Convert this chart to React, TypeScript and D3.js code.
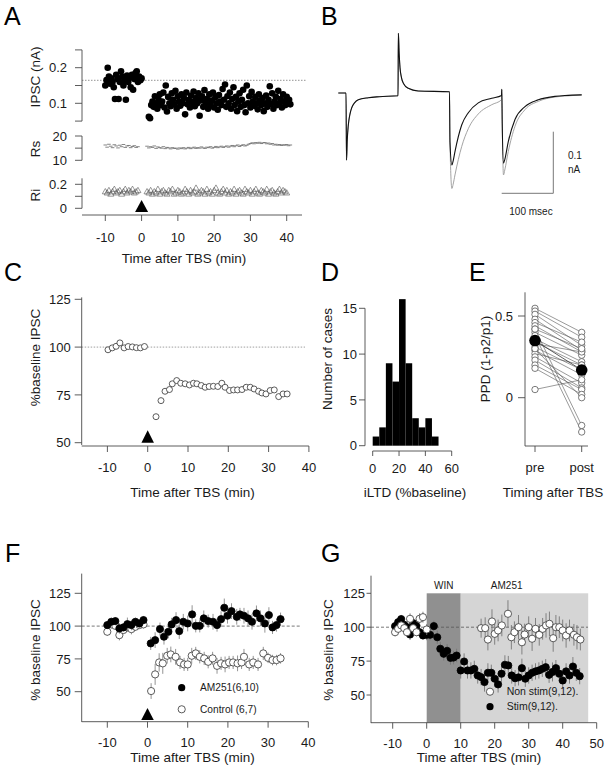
import React from "react";
import * as d3 from "d3";

const FONT = "'Liberation Sans', Arial, Helvetica, sans-serif";
const AX = "#4a4a4a";
const TXT = "#1a1a1a";

// ---------------- Panel A data ----------------
const aTimeTicks = [-10, 0, 10, 20, 30, 40];
const aIpscPreSpan = [-10, 0];
const aIpscPre = [0.150, 0.165, 0.200, 0.175, 0.155, 0.170, 0.160, 0.145, 0.112, 0.180, 0.168, 0.112, 0.160, 0.190, 0.175, 0.150, 0.165, 0.110, 0.178, 0.160, 0.172, 0.145, 0.180, 0.138, 0.168, 0.185, 0.190, 0.160, 0.175, 0.165, 0.170];
const aIpscPostSpan = [2, 41];
const aIpscPost = [0.062, 0.058, 0.095, 0.105, 0.09, 0.12, 0.1, 0.085, 0.11, 0.125, 0.095, 0.105, 0.13, 0.088, 0.15, 0.077, 0.118, 0.1, 0.092, 0.128, 0.11, 0.097, 0.135, 0.085, 0.12, 0.105, 0.093, 0.125, 0.1, 0.115, 0.069, 0.13, 0.097, 0.11, 0.088, 0.122, 0.104, 0.133, 0.092, 0.115, 0.1, 0.128, 0.065, 0.108, 0.12, 0.09, 0.137, 0.1, 0.112, 0.085, 0.125, 0.098, 0.108, 0.13, 0.088, 0.117, 0.1, 0.082, 0.123, 0.105, 0.095, 0.14, 0.11, 0.153, 0.09, 0.12, 0.1, 0.13, 0.085, 0.112, 0.145, 0.095, 0.118, 0.078, 0.105, 0.128, 0.09, 0.11, 0.138, 0.095, 0.075, 0.15, 0.1, 0.12, 0.088, 0.132, 0.105, 0.093, 0.118, 0.1, 0.083, 0.125, 0.108, 0.095, 0.115, 0.078, 0.1, 0.122, 0.09, 0.11, 0.148, 0.098, 0.128, 0.085, 0.105, 0.118, 0.095, 0.135, 0.1, 0.112, 0.088, 0.125, 0.105, 0.095, 0.118, 0.1, 0.11, 0.097];
const aIpscBaseline = 0.1646;
const aIpscTicks = [0.05, 0.1, 0.15, 0.2, 0.25];
const aIpscLabels = [[0.1, "0.1"], [0.2, "0.2"]];
const aRsPreSpan = [-10, -1];
const aRsPre = [16.3, 15.4, 16.6, 15.8, 15.2, 16.4, 15.9, 15.1, 16.2, 15.6, 16.5, 15.3, 15.9, 16.1, 15.2, 15.7, 16.0, 15.3, 15.6];
const aRsPostSpan = [1.5, 41];
const aRsPost = [15.8, 15.1, 15.6, 15.3, 15.9, 14.9, 15.5, 15.2, 15.0, 15.6, 14.8, 15.3, 15.1, 14.7, 15.2, 14.9, 15.0, 14.6, 15.1, 14.8, 15.2, 14.7, 15.0, 15.3, 14.8, 15.1, 15.4, 14.9, 15.2, 15.0, 15.5, 15.1, 14.9, 15.4, 15.2, 15.6, 15.0, 15.3, 15.7, 15.2, 15.5, 15.8, 15.3, 15.6, 15.9, 15.4, 15.8, 16.1, 15.6, 16.0, 16.3, 15.7, 16.1, 16.4, 15.9, 16.2, 16.6, 16.9, 17.2, 16.8, 17.3, 17.0, 17.4, 16.9, 17.2, 17.3, 16.8, 17.1, 16.6, 16.9, 16.3, 16.6, 16.2, 16.5, 16.1, 16.4, 16.2, 16.5, 16.0, 16.3];
const aRsTicks = [10, 15, 20];
const aRsLabels = [[10, "10"], [20, "20"]];
const aRiPreSpan = [-10, -1];
const aRiPre = [0.14, 0.13, 0.15, 0.12, 0.14, 0.16, 0.13, 0.14, 0.15, 0.12, 0.14, 0.16, 0.13, 0.15, 0.14, 0.16, 0.13, 0.14, 0.15];
const aRiPostSpan = [1.5, 40];
const aRiPost = [0.14, 0.13, 0.15, 0.12, 0.14, 0.13, 0.16, 0.12, 0.14, 0.15, 0.13, 0.12, 0.15, 0.14, 0.16, 0.12, 0.13, 0.15, 0.14, 0.12, 0.13, 0.16, 0.14, 0.12, 0.15, 0.13, 0.14, 0.17, 0.12, 0.13, 0.15, 0.14, 0.12, 0.16, 0.13, 0.14, 0.12, 0.15, 0.17, 0.13, 0.12, 0.14, 0.16, 0.13, 0.15, 0.12, 0.14, 0.13, 0.16, 0.12, 0.14, 0.15, 0.13, 0.12, 0.16, 0.14, 0.13, 0.15, 0.12, 0.14, 0.16, 0.13, 0.12, 0.15, 0.14, 0.13, 0.16, 0.12, 0.14, 0.15, 0.13, 0.12, 0.14, 0.16, 0.13, 0.15, 0.14, 0.13];
const aRiTicks = [0, 0.1, 0.2];
const aRiLabels = [[0, "0"], [0.2, "0.2"]];

// ---------------- Panel B data (ms, nA) ----------------
const bTime = [0.6, 15.5, 16.5, 18, 20, 23, 26.6, 32, 39.3, 58.7, 80, 116.3, 117, 118.5, 120.2, 123, 126.6, 136.2, 155.6, 216, 217, 220.7, 223.2, 226.7, 239.7, 252.5, 271.9, 297.9, 316.9, 317.4, 318.3, 320.7, 323.2, 330, 343, 362.4, 388.2, 420.5, 440, 472.3];
const bAfter = [0, 0, -0.109, -0.075, -0.052, -0.035, -0.024, -0.016, -0.011, -0.0076, -0.006, -0.0044, 0.097, 0.065, 0.041, 0.025, 0.016, 0.0076, 0.0032, 0.0021, -0.08, -0.117, -0.11, -0.095, -0.052, -0.032, -0.016, -0.0086, -0.004, 0.006, -0.05, -0.114, -0.108, -0.079, -0.043, -0.022, -0.011, -0.0055, -0.004, -0.003];
const bBefore = [0, 0, -0.109, -0.075, -0.052, -0.035, -0.024, -0.016, -0.011, -0.0076, -0.006, -0.0044, 0.097, 0.065, 0.041, 0.025, 0.016, 0.0076, 0.0032, 0.0021, -0.08, -0.155, -0.148, -0.133, -0.087, -0.058, -0.034, -0.019, -0.011, 0.006, -0.05, -0.133, -0.125, -0.095, -0.054, -0.027, -0.0136, -0.0065, -0.005, -0.003];
const bScaleMs = 100;
const bScaleNA = 0.1;

// ---------------- Panel C data ----------------
const cTimeTicks = [-10, 0, 10, 20, 30, 40];
const cYTicks = [50, 75, 100, 125];
const cPreTime = [-9.85, -8.8, -7.85, -6.9, -5.85, -4.85, -3.8, -2.8, -1.8, -0.8];
const cPreVal = [98.6, 99.6, 100.4, 102.2, 99.6, 100.3, 100.1, 99.7, 99.6, 100.3];
const cPostTime = [2.06, 3.3, 4.3, 5.4, 6.1, 7.2, 8.2, 9.3, 10.35, 11.35, 12.2, 13.3, 14.25, 15.25, 16.3, 17.4, 18.4, 19.2, 20.3, 21.3, 22.3, 23.4, 24.45, 25.45, 26.4, 27.5, 28.35, 29.35, 30.4, 31.4, 32.5, 33.6, 34.6];
const cPostVal = [63.6, 72.0, 76.9, 77.8, 80.8, 82.5, 81.1, 80.8, 80.2, 81.1, 80.8, 79.9, 79.0, 79.4, 79.5, 79.4, 81.1, 79.0, 77.3, 77.6, 77.6, 77.8, 79.0, 79.0, 78.1, 76.9, 76.0, 75.5, 77.3, 77.6, 74.1, 75.5, 75.5];

// ---------------- Panel D data ----------------
const dBinEdges = [0, 5, 10, 15, 20, 25, 30, 35, 40, 45, 50];
const dCounts = [1, 2, 9, 7, 16, 9, 3, 2, 3, 1];
const dXTicks = [0, 20, 40, 60];
const dYTicks = [0, 5, 10, 15];

// ---------------- Panel E data ----------------
const eCats = ["pre", "post"];
const ePre = [0.547, 0.53, 0.51, 0.48, 0.46, 0.44, 0.42, 0.40, 0.38, 0.36, 0.34, 0.33, 0.31, 0.29, 0.27, 0.25, 0.23, 0.20, 0.18, 0.05, 0.42, 0.30];
const ePost = [0.40, 0.37, 0.32, 0.29, 0.34, 0.28, -0.17, 0.26, -0.21, 0.22, 0.20, 0.28, 0.17, 0.14, 0.20, 0.09, 0.06, 0.05, 0.02, 0.11, 0.30, 0.00];
const eYTicks = [0, 0.5];

// ---------------- Panel F data ----------------
const fTimeTicks = [-10, 0, 10, 20, 30, 40];
const fYTicks = [50, 75, 100, 125];
const fAmTime = [-10, -9, -8, -7, -6, -5, -4, -3, -2, -1, 0.8, 1.9, 3.1, 4.1, 5.2, 6, 7.1, 7.9, 8.9, 10, 11.1, 12, 13, 14, 15.1, 16.3, 17.3, 18.3, 19.1, 19.9, 20.9, 22.2, 23, 24, 25, 26, 27.1, 28.1, 29.2, 30.2, 31.1, 32.1, 33.1];
const fAmVal = [100.8, 103.3, 103.8, 98.2, 99, 101.5, 100.8, 103.3, 102, 104.6, 86.8, 89.3, 97.7, 91.9, 95.7, 101.3, 104.6, 96.2, 103.3, 102, 108.9, 100.2, 100.2, 105.9, 103.8, 103.3, 100.8, 105.3, 114, 107.9, 111.4, 107.1, 108.9, 107.9, 105.9, 103.3, 109.7, 105.9, 102, 108.4, 99, 100.8, 105.3];
const fAmSem = [3, 3, 3, 4, 3, 5, 4, 3, 3, 3, 5, 6, 5, 6, 5, 5, 6, 6, 6, 6, 7, 5, 5, 6, 5, 6, 5, 6, 7, 6, 6, 6, 5, 6, 6, 6, 6, 6, 7, 6, 5, 5, 5];
const fCtlTime = [-10, -9, -8, -7, -6, -5, -4, -3, -2, -1, 0.9, 1.9, 2.9, 3.8, 4.9, 5.8, 7, 8.1, 9.1, 10, 11, 12, 13, 14.1, 15.1, 16.2, 17.3, 18.3, 19.3, 20.3, 21.3, 22.4, 23.4, 24, 25.3, 26.3, 27.5, 28.8, 30, 31.1, 32.1, 33.1];
const fCtlVal = [95.7, 101.3, 100.2, 93.1, 97, 99.5, 97.7, 99.5, 100.8, 101.3, 50.5, 63.2, 72.3, 71.6, 77.4, 78.4, 76.6, 72.3, 70.8, 70.8, 77.4, 79.2, 76.6, 75.4, 72.8, 75.4, 69.7, 71.6, 70.8, 72.3, 72.3, 71.6, 72.3, 76.6, 70.8, 72.3, 70.8, 79.2, 75.8, 74.1, 74.1, 75.4];
const fCtlSem = [3, 3, 3, 4, 3, 4, 4, 3, 3, 3, 6, 8, 7, 8, 6, 6, 6, 5, 5, 5, 6, 5, 5, 5, 5, 5, 6, 5, 6, 5, 5, 6, 5, 6, 5, 5, 5, 5, 4, 4, 4, 4];
const fLegend = ["AM251(6,10)", "Control (6,7)"];

// ---------------- Panel G data ----------------
const gTimeTicks = [-10, 0, 10, 20, 30, 40, 50];
const gYTicks = [50, 75, 100, 125];
const gWin = [0, 10];
const gAm251 = [10, 47.5];
const gStimTime = [-9.3, -8.4, -7.5, -6.6, -5.8, -4.9, -4, -3, -2.1, -1.1, 0, 1, 2.1, 3.1, 4, 5, 6, 7, 7.9, 8.8, 10, 11, 12, 13, 14, 15, 16, 17, 18, 19, 20, 21, 22, 23, 24, 25, 26, 27, 28, 29, 30, 31, 32, 33, 34, 35, 36, 37, 38, 39, 40, 41, 42, 43, 44, 45];
const gStimVal = [100.8, 103.7, 106, 101.8, 100, 94.6, 103, 101, 96.3, 93.9, 94.4, 94.4, 100.8, 92.6, 84.1, 80.4, 82.6, 77.4, 77.6, 79.1, 68.1, 74.7, 68.1, 68.1, 69.3, 64.4, 63.2, 59.5, 66.4, 66.4, 62, 57.8, 65.7, 72.3, 71.8, 64.4, 62.4, 63, 69.8, 62, 64.4, 66.4, 67.4, 68.1, 69.3, 70.5, 64.9, 67, 69.8, 65.7, 60.7, 67.4, 64.4, 71, 66.4, 63.9];
const gStimSem = [3, 3, 3, 3, 3, 4, 3, 3, 3, 3, 4, 4, 4, 5, 5, 5, 5, 5, 5, 5, 6, 6, 6, 6, 6, 6, 6, 7, 7, 6, 6, 6, 6, 7, 7, 6, 6, 6, 7, 6, 6, 6, 6, 6, 6, 6, 6, 7, 6, 6, 6, 6, 6, 7, 6, 6];
const gNonTime = [-9.3, -8.4, -7.5, -6.6, -5.8, -4.9, -4, -3, -2.1, -1.1, 0, 16, 17.2, 18, 19.2, 20, 21, 22.1, 23.9, 24.9, 25.8, 27, 28, 28.8, 30, 31, 32, 33.1, 34.1, 35.1, 36.1, 37.2, 38, 39, 40, 41, 42, 43.3, 44.2, 45.2];
const gNonVal = [96.3, 98.8, 101.3, 99.3, 96.3, 106.2, 99.3, 96.3, 106.2, 107.4, 98.3, 99.3, 99.3, 90.9, 104.2, 95.1, 97.6, 101.3, 109.9, 92.6, 96.3, 100, 88.9, 94.6, 100, 91.5, 98.8, 94.4, 98.8, 101.3, 102.5, 91.9, 100, 100, 97.6, 93.9, 97.6, 94.4, 92.6, 90.9];
const gNonSem = [3, 3, 3, 4, 3, 4, 3, 3, 4, 4, 4, 7, 8, 8, 9, 8, 8, 8, 10, 9, 8, 9, 9, 8, 8, 9, 8, 8, 8, 9, 9, 10, 9, 8, 8, 9, 8, 8, 9, 8];
const gLegend = ["Non stim(9,12).", "Stim(9,12)."];

// ---------------- helpers ----------------
function spread(vals: number[], span: number[]) {
  const n = vals.length;
  return vals.map((v, i) => ({ t: span[0] + (i * (span[1] - span[0])) / (n - 1), v }));
}

function YAxis({ x, scale, from, to, ticks, labels, tick = 7, gap = 4, fs = 13 }: any) {
  return (
    <g>
      <line x1={x} x2={x} y1={scale(from)} y2={scale(to)} stroke={AX} strokeWidth={0.9} />
      {ticks.map((t: number, i: number) => (
        <line key={i} x1={x - tick} x2={x} y1={scale(t)} y2={scale(t)} stroke={AX} strokeWidth={0.9} />
      ))}
      {labels.map((l: any, i: number) => (
        <text key={"l" + i} x={x - tick - gap} y={scale(l[0])} dy="0.36em" textAnchor="end" fontSize={fs} fill={TXT}>
          {l[1]}
        </text>
      ))}
    </g>
  );
}

function XAxis({ y, scale, x0, x1, ticks, tick = 6, labelDy = 21, fs = 13, fmt = (d: any) => String(d) }: any) {
  return (
    <g>
      <line x1={x0} x2={x1} y1={y} y2={y} stroke={AX} strokeWidth={0.9} />
      {ticks.map((t: any, i: number) => (
        <g key={i}>
          <line x1={scale(t)} x2={scale(t)} y1={y} y2={y + tick} stroke={AX} strokeWidth={0.9} />
          <text x={scale(t)} y={y + labelDy} dy="0.36em" textAnchor="middle" fontSize={fs} fill={TXT}>
            {fmt(t)}
          </text>
        </g>
      ))}
    </g>
  );
}

function VLabel({ x, y, text, fs = 13.5 }: any) {
  return (
    <text transform={`translate(${x},${y}) rotate(-90)`} textAnchor="middle" dy="0.36em" fontSize={fs} fill={TXT}>
      {text}
    </text>
  );
}

function HLabel({ x, y, text, fs = 13.5 }: any) {
  return (
    <text x={x} y={y} dy="0.36em" textAnchor="middle" fontSize={fs} fill={TXT}>
      {text}
    </text>
  );
}

function Tri({ x, yBase, h = 12, w = 13 }: any) {
  return <path d={`M${x - w / 2},${yBase} L${x + w / 2},${yBase} L${x},${yBase - h} Z`} fill="#000" />;
}

function PanelLetter({ x, y, t }: any) {
  return (
    <text x={x} y={y} fontSize={25} fill="#000">
      {t}
    </text>
  );
}

function Dots({ xs, ys, ts, vs, sem, filled, r = 3.6, errColor = "#888" }: any) {
  return (
    <g>
      {sem &&
        ts.map((t: number, i: number) => (
          <line key={"e" + i} x1={xs(t)} x2={xs(t)} y1={ys(vs[i] - sem[i])} y2={ys(vs[i] + sem[i])} stroke={errColor} strokeWidth={0.9} />
        ))}
      {ts.map((t: number, i: number) => (
        <circle key={i} cx={xs(t)} cy={ys(vs[i])} r={r} fill={filled ? "#000" : "#fff"} stroke={filled ? "#000" : "#333"} strokeWidth={0.8} />
      ))}
    </g>
  );
}

export default function App() {
  // ---- A ----
  const xA = d3.scaleLinear().domain([-10, 40]).range([105.3, 286.7]);
  const yIpsc = d3.scaleLinear().domain([0.1, 0.2]).range([103.3, 67.7]);
  const yRs = d3.scaleLinear().domain([10, 20]).range([160.3, 136]);
  const yRi = d3.scaleLinear().domain([0, 0.2]).range([208.3, 184.3]);
  const ipscPts = [...spread(aIpscPre, aIpscPreSpan), ...spread(aIpscPost, aIpscPostSpan)];
  const rsPts = [...spread(aRsPre, aRsPreSpan), ...spread(aRsPost, aRsPostSpan)];
  const riPts = [...spread(aRiPre, aRiPreSpan), ...spread(aRiPost, aRiPostSpan)];

  // ---- B ----
  const xB = d3.scaleLinear().domain([0, 100]).range([338, 389.6]);
  const yB = d3.scaleLinear().domain([0, 0.1]).range([93, 31.4]);
  const lineB = d3
    .line<number>()
    .x((_, i) => xB(bTime[i]))
    .y((d) => yB(d))
    .curve(d3.curveMonotoneX);
  const sbX1 = 553.3;
  const sbY = 193.3;
  const sbX0 = sbX1 - (xB(bScaleMs) - xB(0));
  const sbYTop = sbY - (yB(0) - yB(bScaleNA));

  // ---- C ----
  const xC = d3.scaleLinear().domain([-10, 40]).range([107.4, 308.9]);
  const yC = d3.scaleLinear().domain([50, 125]).range([442.7, 299.3]);

  // ---- D ----
  const xD = d3.scaleLinear().domain([0, 60]).range([372.7, 451.7]);
  const yD = d3.scaleLinear().domain([0, 15]).range([445.7, 308.3]);

  // ---- E ----
  const xE = d3.scalePoint().domain(eCats).range([535, 581.7]);
  const yE = d3.scaleLinear().domain([0, 0.5]).range([397.7, 316]);
  const preMean = d3.mean(ePre) as number;
  const postMean = d3.mean(ePost) as number;

  // ---- F ----
  const xF = d3.scaleLinear().domain([-10, 40]).range([107.3, 308.3]);
  const yF = d3.scaleLinear().domain([50, 125]).range([691.7, 593.3]);

  // ---- G ----
  const xG = d3.scaleLinear().domain([-10, 50]).range([392.7, 596.7]);
  const yG = d3.scaleLinear().domain([50, 125]).range([695, 593.3]);

  return (
    <svg
      width={611}
      height={776}
      style={{ position: "absolute", left: 0, top: 0, background: "#fff" }}
      fontFamily={FONT}
    >
      <rect x={0} y={0} width={611} height={776} fill="#fff" />

      {/* ================= A ================= */}
      <PanelLetter x={4} y={25} t="A" />
      <line x1={82} x2={306} y1={yIpsc(aIpscBaseline)} y2={yIpsc(aIpscBaseline)} stroke="#777" strokeWidth={0.8} strokeDasharray="1.5,1.5" />
      {ipscPts.map((p, i) => (
        <circle key={i} cx={xA(p.t)} cy={yIpsc(p.v)} r={3.3} fill="#000" />
      ))}
      {rsPts.map((p, i) => (
        <line key={i} x1={xA(p.t) - 1.8} x2={xA(p.t) + 1.8} y1={yRs(p.v)} y2={yRs(p.v)} stroke="#666" strokeWidth={0.8} />
      ))}
      {riPts.map((p, i) => {
        const cx = xA(p.t), cy = yRi(p.v);
        return <path key={i} d={`M${cx - 3},${cy + 2.3} L${cx + 3},${cy + 2.3} L${cx},${cy - 3} Z`} fill="none" stroke="#555" strokeWidth={0.6} />;
      })}
      <YAxis x={82} scale={yIpsc} from={0.05} to={0.25} ticks={aIpscTicks} labels={aIpscLabels} gap={8} />
      <YAxis x={82} scale={yRs} from={10} to={20} ticks={aRsTicks} labels={aRsLabels} gap={8} />
      <YAxis x={82} scale={yRi} from={0} to={0.25} ticks={aRiTicks} labels={aRiLabels} gap={8} />
      <VLabel x={35} y={77} text="IPSC (nA)" />
      <VLabel x={35} y={149} text="Rs" />
      <VLabel x={35} y={195} text="Ri" />
      <Tri x={xA(0)} yBase={212} h={12} w={13} />
      <XAxis y={215} scale={xA} x0={82} x1={302} ticks={aTimeTicks} labelDy={22} />
      <HLabel x={184} y={258} text="Time after TBS (min)" />

      {/* ================= B ================= */}
      <PanelLetter x={321} y={25} t="B" />
      <path d={lineB(bBefore) || ""} fill="none" stroke="#999" strokeWidth={0.9} />
      <path d={lineB(bAfter) || ""} fill="none" stroke="#111" strokeWidth={1.1} />
      <polyline points={`${sbX0},${sbY} ${sbX1},${sbY} ${sbX1},${sbYTop}`} fill="none" stroke="#777" strokeWidth={1} />
      <text x={568} y={155} dy="0.36em" fontSize={10} fill={TXT}>0.1</text>
      <text x={568} y={169} dy="0.36em" fontSize={10} fill={TXT}>nA</text>
      <text x={531} y={211} dy="0.36em" fontSize={10} textAnchor="middle" fill={TXT}>100 msec</text>

      {/* ================= C ================= */}
      <PanelLetter x={4} y={281} t="C" />
      <line x1={81.7} x2={305} y1={yC(100)} y2={yC(100)} stroke="#888" strokeWidth={0.8} strokeDasharray="1.5,1.5" />
      <Dots xs={xC} ys={yC} ts={cPreTime} vs={cPreVal} filled={false} r={3} />
      <Dots xs={xC} ys={yC} ts={cPostTime} vs={cPostVal} filled={false} r={3} />
      <Tri x={xC(0)} yBase={442.7} h={12.5} w={12.5} />
      <YAxis x={81.7} scale={yC} from={48.8} to={126} ticks={cYTicks} labels={cYTicks.map((t) => [t, String(t)])} gap={4} />
      <XAxis y={446} scale={xC} x0={81.7} x1={308.9} ticks={cTimeTicks} labelDy={21} />
      <HLabel x={192.5} y={492} text="Time after TBS (min)" />
      <VLabel x={35} y={357.5} text="%baseline IPSC" />

      {/* ================= D ================= */}
      <PanelLetter x={321} y={281} t="D" />
      {dCounts.map((c, i) => (
        <rect key={i} x={xD(dBinEdges[i])} y={yD(c)} width={xD(dBinEdges[i + 1]) - xD(dBinEdges[i])} height={yD(0) - yD(c)} fill="#000" />
      ))}
      <YAxis x={365} scale={yD} from={0} to={15} ticks={dYTicks} labels={dYTicks.map((t) => [t, String(t)])} tick={6} gap={2} />
      <XAxis y={451} scale={xD} x0={xD(0)} x1={xD(60)} ticks={dXTicks} tick={5} labelDy={17} />
      <HLabel x={415} y={492} text="iLTD (%baseline)" />
      <VLabel x={327} y={359} text="Number of cases" />

      {/* ================= E ================= */}
      <PanelLetter x={469} y={281} t="E" />
      {ePre.map((v, i) => (
        <line key={"l" + i} x1={xE("pre") as number} x2={xE("post") as number} y1={yE(v)} y2={yE(ePost[i])} stroke="#555" strokeWidth={0.6} />
      ))}
      {ePre.map((v, i) => (
        <circle key={"a" + i} cx={xE("pre") as number} cy={yE(v)} r={3.2} fill="#fff" stroke="#444" strokeWidth={0.7} />
      ))}
      {ePost.map((v, i) => (
        <circle key={"b" + i} cx={xE("post") as number} cy={yE(v)} r={3.2} fill="#fff" stroke="#444" strokeWidth={0.7} />
      ))}
      <line x1={xE("pre") as number} x2={xE("post") as number} y1={yE(preMean)} y2={yE(postMean)} stroke="#333" strokeWidth={0.8} />
      <circle cx={xE("pre") as number} cy={yE(preMean)} r={5.8} fill="#000" />
      <circle cx={xE("post") as number} cy={yE(postMean)} r={5.8} fill="#000" />
      <YAxis x={525} scale={yE} from={-0.296} to={0.645} ticks={eYTicks} labels={[[0, "0"], [0.5, "0.5"]]} tick={7} gap={5} />
      <XAxis y={446} scale={xE} x0={525} x1={588} ticks={eCats} labelDy={21} />
      <HLabel x={553} y={492} text="Timing after TBS" />
      <VLabel x={485} y={359} text="PPD (1-p2/p1)" />

      {/* ================= F ================= */}
      <PanelLetter x={5} y={562} t="F" />
      <line x1={81.7} x2={301.7} y1={yF(100)} y2={yF(100)} stroke="#555" strokeWidth={0.8} strokeDasharray="3,2" />
      <Dots xs={xF} ys={yF} ts={fCtlTime} vs={fCtlVal} sem={fCtlSem} filled={false} r={3.6} />
      <Dots xs={xF} ys={yF} ts={fAmTime} vs={fAmVal} sem={fAmSem} filled={true} r={3.6} />
      <circle cx={181.7} cy={687.7} r={3.6} fill="#000" />
      <text x={200} y={687.7} dy="0.36em" fontSize={10.2} fill={TXT}>{fLegend[0]}</text>
      <circle cx={181.7} cy={709.3} r={3.6} fill="#fff" stroke="#333" strokeWidth={0.8} />
      <text x={200} y={709.3} dy="0.36em" fontSize={10.2} fill={TXT}>{fLegend[1]}</text>
      <Tri x={xF(0)} yBase={720} h={12} w={12.5} />
      <YAxis x={81.7} scale={yF} from={27} to={140} ticks={fYTicks} labels={fYTicks.map((t) => [t, String(t)])} gap={4} />
      <XAxis y={721.7} scale={xF} x0={81.7} x1={308.3} ticks={fTimeTicks} labelDy={21} />
      <HLabel x={192.5} y={757} text="Time after TBS (min)" />
      <VLabel x={35} y={650} text="% baseline IPSC" />

      {/* ================= G ================= */}
      <PanelLetter x={321} y={562} t="G" />
      <rect x={xG(gWin[0])} y={yG(125)} width={xG(gWin[1]) - xG(gWin[0])} height={722.7 - yG(125)} fill="#909090" />
      <rect x={xG(gAm251[0])} y={yG(125)} width={xG(gAm251[1]) - xG(gAm251[0])} height={722.7 - yG(125)} fill="#d5d5d5" />
      <text x={(xG(gWin[0]) + xG(gWin[1])) / 2} y={585} dy="0.36em" textAnchor="middle" fontSize={10} fill={TXT}>WIN</text>
      <text x={506.7} y={585} dy="0.36em" textAnchor="middle" fontSize={10} fill={TXT}>AM251</text>
      <line x1={371} x2={588} y1={yG(100)} y2={yG(100)} stroke="#555" strokeWidth={0.8} strokeDasharray="3,2" />
      <Dots xs={xG} ys={yG} ts={gStimTime} vs={gStimVal} sem={gStimSem} filled={true} r={3.6} errColor="#777" />
      <Dots xs={xG} ys={yG} ts={gNonTime} vs={gNonVal} sem={gNonSem} filled={false} r={3.6} errColor="#777" />
      <circle cx={490} cy={691.7} r={3.6} fill="#fff" stroke="#333" strokeWidth={0.8} />
      <text x={506.7} y={691.7} dy="0.36em" fontSize={10.5} fill={TXT}>{gLegend[0]}</text>
      <circle cx={490} cy={706.7} r={3.6} fill="#000" />
      <text x={506.7} y={706.7} dy="0.36em" fontSize={10.5} fill={TXT}>{gLegend[1]}</text>
      <YAxis x={371} scale={yG} from={29.3} to={138} ticks={gYTicks} labels={gYTicks.map((t) => [t, String(t)])} tick={4.5} gap={1.5} />
      <XAxis y={722.7} scale={xG} x0={371} x1={596.7} ticks={gTimeTicks} labelDy={21} />
      <HLabel x={479} y={757} text="Time after TBS (min)" />
      <VLabel x={328} y={650} text="% baseline IPSC" />
    </svg>
  );
}
